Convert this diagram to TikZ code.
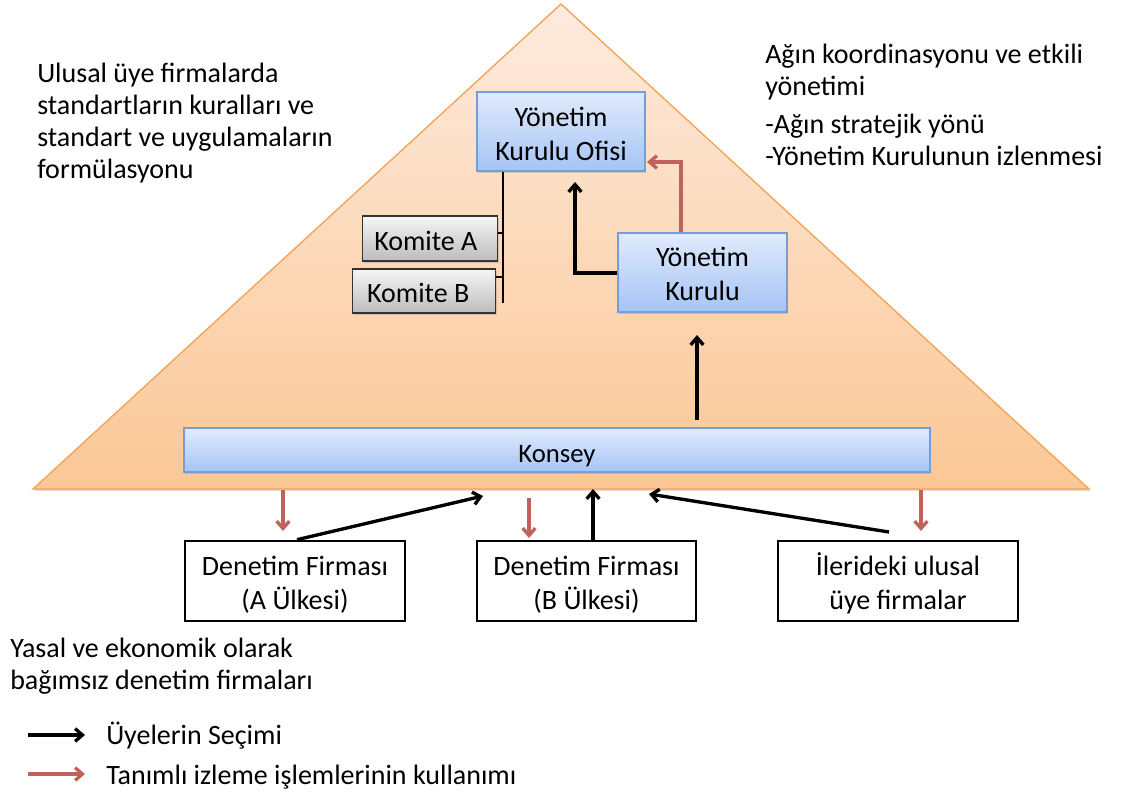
\documentclass[tikz,border=0pt]{standalone}
\usepackage{fontspec}
\setmainfont{Carlito}
\usetikzlibrary{arrows.meta,shadows,calc}
\definecolor{redarrow}{RGB}{192,98,90}
\definecolor{tritop}{RGB}{253,235,222}
\definecolor{tribot}{RGB}{251,199,150}
\definecolor{triedge}{RGB}{242,163,85}
\definecolor{bluetop}{RGB}{224,234,252}
\definecolor{bluebot}{RGB}{166,196,245}
\definecolor{blueedge}{RGB}{118,158,214}
\definecolor{graytop}{RGB}{246,246,246}
\definecolor{graybot}{RGB}{188,188,188}
\newcommand{\bxt}[2]{\raisebox{-#1}[\height][\depth]{\begin{tabular}{@{}c@{}}#2\end{tabular}}}
\begin{document}
\begin{tikzpicture}[x=0.75pt,y=-0.75pt,
  font=\fontsize{21}{25.5}\selectfont,
  tri/.style={draw=triedge, line width=1pt, top color=tritop, bottom color=tribot,
    drop shadow={opacity=0.25, shadow xshift=0.8pt, shadow yshift=-1.5pt}},
  bluebox/.style={draw=blueedge, line width=1pt, top color=bluetop, bottom color=bluebot,
    inner sep=0pt,
    drop shadow={opacity=0.3, shadow xshift=1pt, shadow yshift=-1.5pt}},
  graybox/.style={draw=black!80, line width=1pt, top color=graytop, bottom color=graybot,
    inner ysep=0pt, anchor=west,
    drop shadow={opacity=0.3, shadow xshift=1pt, shadow yshift=-1.5pt}},
  whitebox/.style={draw=black, line width=2pt, fill=white, inner sep=0pt,
    minimum height=60pt},
  txt/.style={anchor=base west, inner sep=0pt},
  blackarrow/.style={draw=black, line width=2.5pt, -{Straight Barb[length=5.5pt,width=9.5pt]}},
  redarr/.style={draw=redarrow, line width=2.5pt, -{Straight Barb[length=5.5pt,width=9.5pt]}},
  thinline/.style={draw=black, line width=0.9pt}
]
\useasboundingbox (0,0) rectangle (1123,796);

% pyramid
\path[tri] (33,489) -- (561,4) -- (1089,489) -- cycle;

% side texts
\node[txt] (l1) at (37,82) {Ulusal üye firmalarda};
\node[txt] (l2) at (37,114) {standartların kuralları ve};
\node[txt] (l3) at (37,146) {standart ve uygulamaların};
\node[txt] (l4) at (37,178) {formülasyonu};

\node[txt] (r1) at (765,63) {Ağın koordinasyonu ve etkili};
\node[txt] (r2) at (765,95) {yönetimi};
\node[txt] (r3) at (765,133) {-Ağın stratejik yönü};
\node[txt] (r4) at (765,165) {-Yönetim Kurulunun izlenmesi};

\node[txt] (b1) at (10,657) {Yasal ve ekonomik olarak};
\node[txt] (b2) at (10,689) {bağımsız denetim firmaları};

% boxes inside pyramid
\node[bluebox, minimum width=126pt, minimum height=59.25pt] (ofis) at (561,131.5) {\bxt{4.2pt}{Yönetim\\Kurulu Ofisi}};
\node[graybox, minimum width=101.25pt, minimum height=33.75pt] (ka) at (362,238.5) {\raisebox{-1.5pt}[\height][\depth]{Komite A}\hspace*{6.5pt}};
\node[graybox, minimum width=107.25pt, minimum height=33pt] (kb) at (352,291) {\raisebox{-1.5pt}[\height][\depth]{Komite B}\hspace*{9pt}};
\node[bluebox, minimum width=126.75pt, minimum height=59.25pt] (yk) at (702.5,272.5) {\bxt{3.5pt}{Yönetim\\Kurulu}};
\node[bluebox, minimum width=559.5pt, minimum height=33pt, font=\fontsize{20}{24}\selectfont] (konsey) at (557,450) {\raisebox{-4.2pt}[\height][\depth]{Konsey}};

% bottom boxes
\node[whitebox, minimum width=165pt] (fa) at (295,581) {\bxt{3.5pt}{Denetim Firması\\(A Ülkesi)}};
\node[whitebox, minimum width=164.25pt] (fb) at (586.5,581) {\bxt{3.5pt}{Denetim Firması\\(B Ülkesi)}};
\node[whitebox, minimum width=180pt] (fc) at (898,581) {\bxt{3.5pt}{İlerideki ulusal\\üye firmalar}};

% committee connector
\coordinate (vb) at (503,303);
\coordinate (ta) at (503,233);
\coordinate (tb) at (503,277);
\draw[thinline] (ofis.south -| vb) -- (vb);
\draw[thinline] (ta) -- (ta -| ka.east);
\draw[thinline] (tb) -- (tb -| kb.east);

% arrows between YK and office
\coordinate (elbowb) at (575,273);
\coordinate (tipb) at (575,182);
\draw[blackarrow] (yk.west |- elbowb) -- (elbowb) -- (tipb);
\coordinate (redx) at (681,162);
\coordinate (redtip) at (647,162);
\draw[redarr] (yk.north -| redx) -- (redx) -- (redtip);

% konsey to YK
\coordinate (ks) at (697,420);
\coordinate (kt) at (697,335);
\draw[blackarrow] (ks) -- (kt);

% bottom arrows
\coordinate (ra1) at (283,490);
\coordinate (ra1e) at (283,531);
\coordinate (ra2) at (529,498);
\coordinate (ra2e) at (529,538);
\coordinate (ra3) at (921,490);
\coordinate (ra3e) at (921,531);
\draw[redarr] (ra1) -- (ra1e);
\draw[redarr] (ra2) -- (ra2e);
\draw[redarr] (ra3) -- (ra3e);

\coordinate (ba1) at (483,496);
\coordinate (ba2) at (593,489);
\coordinate (ba3s) at (889,532);
\coordinate (ba3) at (649,494);
\draw[blackarrow] ($(fa.north)+(2,0)$) -- (ba1);
\draw[blackarrow] ($(fb.north)+(6.5,0)$) -- (ba2);
\draw[blackarrow] (ba3s) -- (ba3);

% legend
\coordinate (lg1s) at (28,735);
\coordinate (lg1e) at (85,735);
\coordinate (lg2s) at (28,774);
\coordinate (lg2e) at (85,774);
\draw[blackarrow] (lg1s) -- (lg1e);
\draw[redarr] (lg2s) -- (lg2e);
\node[txt] (lt1) at (106,744) {Üyelerin Seçimi};
\node[txt] (lt2) at (106,784) {Tanımlı izleme işlemlerinin kullanımı};
\end{tikzpicture}
\end{document}
